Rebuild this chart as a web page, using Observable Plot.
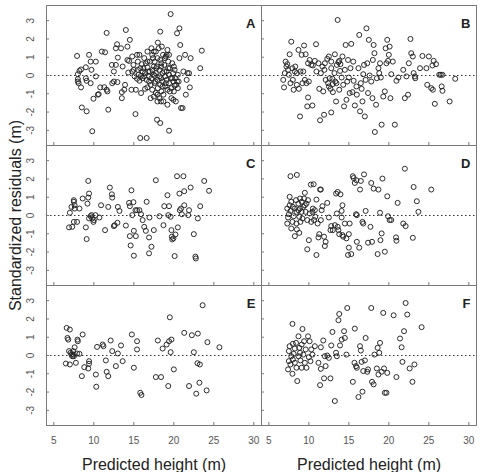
<!DOCTYPE html>
<html><head><meta charset="utf-8">
<script src="https://cdn.jsdelivr.net/npm/d3@7"></script>
<script src="https://cdn.jsdelivr.net/npm/@observablehq/plot@0.6"></script>
<style>body{margin:0;background:#fff} #chart svg{display:block}</style>
</head><body><div id="chart"></div><script>
const panelLetters = ["A","B","C","D","E","F"];
const panelCols = ["L","R","L","R","L","R"];
const panelRows = [1,1,2,2,3,3];
const xTicks = [5,10,15,20,25,30];
const yTicks = [-3,-2,-1,0,1,2,3];
const xTitle = "Predicted height (m)";
const yTitle = "Standardized residuals (m)";

const panelA = [[7.9,1.07],[8.0,-0.2],[8.0,0.07],[8.1,-0.42],[8.2,0.25],[8.4,0.33],[8.4,-0.65],[8.5,-1.75],[8.0,-0.33],[9.0,0.45],[9.0,-0.15],[9.1,-0.29],[9.1,-1.96],[9.4,1.13],[9.6,0.76],[9.7,0.31],[9.6,-0.42],[9.8,-3.05],[9.95,-1.27],[10.25,0.76],[10.25,-0.05],[10.5,-1.05],[10.6,-1.02],[10.8,-0.65],[11.0,1.31],[11.3,-0.64],[11.4,1.27],[11.6,2.33],[11.6,-0.78],[11.7,-0.87],[11.8,-1.87],[12.25,0.58],[12.3,-0.42],[12.5,-0.33],[12.5,0.22],[12.75,1.49],[12.9,1.71],[13.0,0.98],[12.75,0.58],[12.95,-0.36],[13.4,1.49],[13.5,-1.24],[13.5,-0.91],[13.6,0.49],[13.8,-0.78],[13.9,-0.51],[14.0,2.49],[14.2,1.58],[14.2,0.85],[14.3,0.16],[14.4,0.8],[14.5,1.95],[14.7,-0.78],[14.8,1.04],[14.95,0.58],[15.0,0.31],[15.2,-2.11],[15.25,-0.78],[15.4,1.13],[15.5,0.76],[15.5,0.31],[15.6,0.04],[15.7,1.13],[15.8,-3.42],[15.9,-0.96],[16.0,0.62],[16.1,-0.15],[16.2,0.4],[16.3,0.95],[16.4,-0.73],[16.5,0.67],[16.6,-3.42],[16.7,1.31],[16.7,0.44],[16.7,-0.65],[16.9,-0.33],[17.0,0.22],[17.1,-1.24],[17.2,1.49],[17.3,1.13],[17.5,1.31],[17.5,0.49],[17.6,-0.02],[17.7,-0.33],[17.75,-0.96],[17.8,0.4],[17.9,-2.42],[17.95,-1.42],[18.0,1.8],[18.1,1.49],[18.3,-2.6],[18.3,2.4],[18.4,-0.15],[18.45,0.67],[18.5,1.58],[18.6,-0.6],[18.7,-1.42],[18.8,0.22],[18.9,0.95],[19.0,-0.42],[19.1,1.13],[19.2,-1.6],[19.3,0.4],[19.4,-3.02],[19.5,-0.87],[19.6,3.36],[19.7,-1.24],[19.8,-0.15],[19.95,-1.33],[20.0,0.49],[20.1,-0.55],[20.25,-1.42],[20.4,2.31],[20.4,-0.33],[20.5,-0.69],[20.7,2.58],[20.7,0.95],[20.8,1.67],[20.9,-1.78],[21.1,-1.78],[21.2,0.22],[21.4,1.13],[21.5,-1.05],[21.6,-0.24],[21.7,0.13],[21.9,0.13],[22.0,-0.65],[22.1,0.95],[23.3,0.4],[23.5,1.36],
[17.3,0.31],[17.5,0.04],[17.6,-0.42],[17.75,0.13],[17.9,0.49],[17.95,-0.24],[18.0,-0.69],[18.2,0.31],[18.2,-0.05],[18.3,-0.51],[18.4,0.49],[18.45,-0.87],[18.6,0.13],[18.6,-0.33],[18.7,-1.05],[18.8,0.58],[18.9,-0.05],[18.95,-0.6],[19.1,0.22],[19.1,-0.24],[19.2,-0.78],[19.3,0.76],[19.4,0.04],[19.4,-0.42],[19.5,0.4],[19.6,-0.15],[19.7,-0.69],[19.8,0.67],[19.9,0.13],[19.95,-0.33],[20.0,-0.87],[20.1,0.31],[20.2,-0.15],[20.3,-0.51],[20.5,0.04],[20.6,-0.33],[17.1,-0.51],[17.2,-0.15],[17.3,-0.78],[16.9,-0.05],[16.8,0.22],[16.6,-0.24],[16.4,0.13],[16.3,-0.05],[16.1,0.22],[17.5,-1.15],[17.95,-1.05],[18.2,-1.24],[18.4,-1.42],[18.3,0.85],[17.95,0.95],[17.6,0.76],[18.65,1.13],[19.0,1.04],[19.4,1.13],[19.2,1.4],[17.75,1.31],[17.4,0.95],[17.0,0.76],[16.7,0.76],
[14.8,0.22],[15.1,-0.05],[15.4,-0.18],[15.7,-0.29],[15.9,-0.02],[15.8,0.4]];

const panelB = [[6.8,-0.24],[6.9,-0.65],[7.0,0.13],[7.1,0.76],[7.2,0.49],[7.3,0.62],[7.4,0.31],[7.5,0.04],[7.6,1.16],[7.7,-0.42],[7.8,1.85],[7.95,0.4],[8.0,-0.24],[8.1,-0.78],[8.25,0.22],[8.3,0.49],[8.5,-0.51],[8.5,0.13],[8.7,1.4],[8.75,-0.73],[8.9,-2.24],[8.95,0.22],[9.1,1.13],[9.2,-0.42],[9.3,0.22],[9.4,1.64],[9.5,-0.24],[9.6,1.16],[9.7,-0.42],[9.8,-1.69],[9.9,0.67],[9.9,-1.2],[10.0,-0.33],[10.1,0.85],[10.3,0.58],[10.45,-1.64],[10.5,0.55],[10.75,0.8],[10.9,1.71],[10.95,0.22],[11.2,0.67],[11.3,-0.73],[11.4,-2.45],[11.5,0.13],[11.7,0.49],[11.8,-0.87],[11.9,-2.15],[11.95,0.31],[12.0,0.67],[12.1,-0.24],[12.3,0.91],[12.4,-0.42],[12.5,1.04],[12.5,-0.6],[12.6,-0.15],[12.7,-0.73],[12.8,-2.02],[12.8,0.4],[12.95,-0.18],[13.0,-0.91],[13.2,0.13],[13.25,1.16],[13.4,-1.42],[13.45,-0.42],[13.6,3.04],[13.7,0.73],[13.8,-0.78],[13.9,0.25],[13.95,0.62],[14.1,-0.11],[14.2,1.04],[14.3,-0.51],[14.4,-1.69],[14.5,0.31],[14.6,1.67],[14.7,-1.33],[14.8,-0.33],[14.9,0.85],[15.0,-0.11],[15.1,-0.96],[15.2,0.4],[15.3,1.73],[15.45,-0.91],[15.55,0.76],[15.6,-0.29],[15.75,-1.64],[15.95,-0.6],[16.0,-1.05],[16.2,0.4],[16.3,2.22],[16.4,-1.96],[16.5,-0.42],[16.6,-0.73],[16.7,-1.42],[16.8,0.07],[16.9,0.58],[17.0,-2.24],[17.1,-0.24],[17.2,2.58],[17.3,0.67],[17.4,-0.96],[17.5,1.95],[17.6,0.0],[17.8,-0.33],[17.95,-1.24],[18.0,0.85],[18.1,1.67],[18.2,1.22],[18.25,-3.09],[18.4,-1.6],[18.5,-0.15],[18.7,0.4],[18.8,0.13],[18.9,0.67],[19.0,-0.11],[19.1,-2.69],[19.3,-1.15],[19.5,-0.87],[19.6,1.49],[19.7,0.67],[19.8,1.95],[19.9,0.8],[20.0,1.13],[20.1,1.58],[20.2,-1.24],[20.3,0.07],[20.5,0.76],[20.75,-2.69],[20.95,-0.29],[21.2,-0.11],[21.8,0.31],[22.0,-1.24],[22.2,-0.05],[22.4,-1.05],[22.5,0.67],[22.7,2.0],[22.8,1.22],[23.0,1.04],[23.1,0.13],[23.25,-0.05],[23.3,-0.15],[23.9,0.4],[24.2,1.07],[24.7,0.4],[24.8,-0.51],[25.0,1.04],[25.3,-0.69],[25.45,0.55],[25.5,-0.78],[25.6,0.8],[25.75,-1.55],[25.9,0.62],[26.3,0.04],[26.5,0.04],[26.7,0.04],[26.6,-0.6],[26.7,-0.84],[27.6,-1.42],[28.3,-0.18],[12.8,0.76],[13.5,0.58],[13.8,0.8],[13.3,-0.33],[13.0,-0.47]];

const panelC = [[6.9,-0.65],[7.0,0.15],[7.2,0.47],[7.3,-0.62],[7.5,0.84],[7.5,0.75],[7.5,-0.35],[7.6,0.56],[7.6,0.38],[7.9,-0.35],[8.2,0.38],[8.6,0.93],[9.0,-0.65],[9.1,-1.29],[9.2,0.65],[9.3,1.89],[9.3,0.98],[9.4,1.2],[9.4,-0.16],[9.6,-0.04],[9.7,0.02],[9.8,-0.16],[9.95,-0.35],[10.0,-0.25],[10.2,0.02],[10.7,-0.11],[10.9,0.56],[11.4,-0.8],[11.8,0.47],[12.0,1.53],[12.25,1.16],[12.3,0.98],[12.5,-0.58],[12.6,-0.53],[12.95,-0.4],[13.0,0.47],[13.2,0.25],[14.0,-0.55],[14.4,0.69],[14.5,0.51],[14.5,-1.13],[14.6,-1.64],[14.7,1.38],[14.8,0.02],[14.95,0.73],[15.0,-2.2],[15.0,-0.84],[15.2,0.29],[15.25,-1.13],[15.4,0.29],[15.7,0.29],[15.9,0.07],[16.1,-0.25],[16.3,-0.62],[16.5,-0.84],[16.6,0.75],[16.9,-1.2],[16.9,-2.07],[16.95,-0.11],[17.2,-1.71],[17.5,-0.8],[17.75,1.93],[18.2,-0.04],[18.7,-0.53],[18.8,0.51],[19.2,1.11],[19.3,0.02],[19.4,0.51],[19.6,-0.07],[19.7,-0.8],[19.75,-1.16],[19.8,-1.31],[19.95,-1.25],[20.1,-2.22],[20.2,-1.04],[20.4,2.15],[20.5,-0.65],[20.7,1.2],[20.75,0.29],[20.9,0.38],[21.0,0.07],[21.2,2.15],[21.3,0.56],[21.3,1.33],[21.8,0.02],[21.9,0.29],[22.1,1.53],[22.5,-1.02],[22.7,-2.25],[22.75,-2.35],[23.0,-0.16],[23.3,0.51],[23.8,1.89],[24.4,1.35]];

const panelD = [[7.7,2.15],[8.5,2.22],[7.6,1.02],[7.3,0.38],[7.3,-0.44],[7.4,-0.11],[7.5,0.07],[7.6,0.56],[7.7,0.25],[7.8,-0.71],[7.8,0.75],[7.95,-0.35],[8.0,0.47],[8.1,-0.04],[8.25,-1.13],[8.25,0.38],[8.4,0.84],[8.45,0.2],[8.45,-0.44],[8.5,-0.76],[8.7,0.29],[8.7,0.65],[8.8,-0.95],[8.8,-0.07],[8.9,0.93],[8.9,0.38],[8.95,-0.35],[9.1,0.75],[9.1,0.2],[9.2,-0.16],[9.3,0.47],[9.4,0.93],[9.5,0.56],[9.5,1.24],[9.6,0.2],[9.7,0.65],[9.8,-1.85],[9.8,-0.25],[9.9,0.84],[10.0,-1.35],[10.1,0.11],[10.25,1.69],[10.3,-0.35],[10.45,0.2],[10.5,0.38],[10.6,1.71],[10.65,-0.25],[10.75,0.29],[10.8,-0.07],[10.95,-2.16],[10.95,0.87],[11.1,-0.44],[11.2,-1.2],[11.3,-1.02],[11.4,1.42],[11.5,-0.25],[11.5,1.42],[11.6,0.29],[11.7,0.51],[11.9,-1.16],[12.0,-1.67],[12.1,-1.44],[12.3,0.69],[12.5,-0.11],[12.7,-0.8],[12.8,-0.58],[13.0,-0.8],[13.25,-0.53],[13.4,1.2],[13.5,0.11],[13.6,1.29],[13.6,-0.62],[13.7,-0.8],[13.8,-1.02],[13.95,1.16],[14.1,0.25],[14.1,-0.11],[14.2,0.56],[14.2,-1.07],[14.3,-1.16],[14.5,-0.44],[14.7,-1.25],[14.9,-2.16],[15.0,-1.76],[15.0,-1.02],[15.1,-0.44],[15.3,-2.11],[15.5,2.15],[15.6,2.05],[15.75,1.78],[15.9,0.07],[15.95,1.93],[16.0,-1.44],[16.0,0.02],[16.3,-1.76],[16.4,1.42],[16.5,1.89],[16.7,-0.35],[16.8,-0.44],[16.9,2.25],[17.1,0.25],[17.4,-1.49],[17.7,-0.62],[17.8,1.78],[17.9,-1.44],[18.1,1.47],[18.6,-2.11],[18.7,1.42],[18.9,0.15],[18.95,-1.35],[19.1,-0.98],[19.2,2.02],[19.5,-1.98],[19.8,1.05],[19.9,-0.04],[20.1,-0.25],[20.3,-0.25],[20.9,-1.2],[20.95,-1.38],[21.1,0.69],[21.8,-0.44],[22.0,2.56],[22.1,-0.58],[23.0,-1.22],[23.1,1.56],[23.5,0.78],[23.7,0.2],[25.3,1.42]];

const panelE = [[6.5,-0.44],[6.6,1.51],[6.7,0.96],[6.8,0.87],[6.9,0.24],[7.0,-0.49],[7.0,1.42],[7.1,0.15],[7.2,0.05],[7.3,-0.04],[7.4,0.24],[7.5,0.05],[7.5,-0.04],[7.6,0.45],[7.75,-0.4],[7.9,0.11],[7.95,0.87],[8.0,0.78],[8.2,0.09],[8.5,-1.13],[8.6,1.15],[8.8,-0.64],[9.3,-0.71],[9.4,-0.31],[9.4,-0.45],[10.25,-1.04],[10.3,-1.71],[10.4,0.47],[11.1,0.6],[11.2,0.51],[11.5,-0.27],[11.6,-0.89],[11.8,-1.13],[12.1,0.82],[12.3,0.24],[12.75,-0.58],[13.0,0.11],[13.4,0.55],[13.6,-0.31],[14.75,1.15],[15.0,-0.67],[15.4,0.78],[15.4,0.33],[15.8,-2.04],[15.95,-2.16],[17.75,-1.18],[18.0,0.82],[18.4,-1.18],[18.6,0.38],[19.1,0.6],[19.3,-1.67],[19.4,0.78],[19.5,2.09],[19.6,0.18],[19.7,0.87],[20.0,-0.76],[21.3,1.24],[21.9,-1.67],[22.25,1.11],[22.5,0.18],[22.8,-2.09],[22.95,-0.42],[23.0,1.2],[23.2,-1.49],[23.25,-0.49],[23.6,2.75],[24.1,-1.91],[24.2,0.73],[25.7,0.45]];

const panelF = [[7.4,-0.76],[7.5,0.24],[7.5,-0.31],[7.6,0.51],[7.7,-0.49],[7.8,-0.04],[7.95,-1.0],[7.95,1.73],[8.0,0.64],[8.0,-0.22],[8.1,0.09],[8.25,0.38],[8.25,-0.4],[8.4,0.69],[8.45,-0.67],[8.55,-1.4],[8.7,1.05],[8.7,-0.04],[8.8,0.42],[8.9,0.15],[8.95,-0.27],[9.1,0.6],[9.1,-0.67],[9.2,1.45],[9.3,0.05],[9.4,0.78],[9.5,-0.4],[9.6,0.33],[9.7,-0.67],[9.9,1.05],[10.0,-0.09],[10.1,0.78],[10.2,-0.31],[10.3,0.33],[10.45,0.05],[10.75,0.51],[11.2,-0.4],[11.4,-1.62],[11.5,-0.73],[11.5,0.45],[11.8,0.82],[11.9,-1.25],[12.0,-0.04],[12.1,-0.58],[12.3,0.0],[12.5,-0.13],[12.7,-1.25],[12.8,0.55],[12.95,1.29],[13.25,-2.49],[13.4,0.15],[13.5,-0.04],[13.7,1.93],[13.8,2.27],[13.9,0.55],[14.1,0.87],[14.4,1.33],[14.5,0.96],[14.7,0.05],[14.8,2.6],[15.5,-1.44],[15.7,-0.4],[15.75,1.47],[15.9,-0.58],[16.0,-0.67],[16.2,-2.27],[16.4,0.51],[16.5,0.27],[16.6,-0.35],[16.7,-1.98],[16.8,-0.85],[17.0,-0.27],[17.1,0.96],[17.3,-0.89],[17.4,-0.76],[17.8,2.6],[17.9,-1.44],[18.1,-1.58],[18.2,0.05],[18.5,-0.71],[18.6,0.42],[18.7,-1.04],[18.8,0.15],[18.9,0.69],[19.1,-0.89],[19.3,2.33],[19.4,-0.71],[19.5,-2.04],[19.7,-2.04],[19.8,-0.95],[20.6,2.2],[20.95,-1.18],[21.4,0.93],[21.6,0.45],[21.7,-0.35],[21.9,1.33],[22.1,2.87],[22.3,2.24],[22.6,-0.71],[22.95,-1.44],[23.2,-0.49],[24.1,1.55]];

const panelPoints = [panelA, panelB, panelC, panelD, panelE, panelF];

const points = panelPoints.flatMap((pts, i) => pts.map(([x, y]) => ({x, y, col: panelCols[i], row: panelRows[i]})));
const letters = panelLetters.map((t, i) => ({t, col: panelCols[i], row: panelRows[i]}));
const yTitleRow = [{t: yTitle, col: "L", row: 2}];

const frameColor = "#7a7a7a";
const chart = Plot.plot({
  width: 482, height: 472,
  marginLeft: 45.7, marginRight: 6, marginTop: 4, marginBottom: 45.3,
  style: {fontFamily: "'Liberation Sans', Arial, sans-serif", color: "#333", background: "#fff"},
  fx: {domain: ["L", "R"], padding: 0, axis: null},
  fy: {domain: [1, 2, 3], padding: 0, axis: null},
  x: {domain: [4.08, 30.96]},
  y: {domain: [-3.83, 3.83]},
  marks: [
    Plot.ruleY([0], {stroke: "#333", strokeWidth: 1, strokeDasharray: "1.5,2.5"}),
    Plot.dot(points, {x: "x", y: "y", fx: "col", fy: "row", r: 2.5, stroke: "#222", strokeWidth: 0.95, fill: "none"}),
    Plot.frame({stroke: frameColor, strokeWidth: 1}),
    Plot.axisX(xTicks, {tickSize: -3, fill: "none", stroke: frameColor, facetAnchor: null, label: null}),
    Plot.axisY(yTicks, {tickSize: -3, fill: "none", stroke: frameColor, facetAnchor: null, label: null}),
    Plot.axisX(xTicks, {tickSize: 0, tickPadding: 11, fontSize: 10, fill: "#555", facetAnchor: "bottom", label: null, tickFormat: d => String(d)}),
    Plot.text(yTicks, {y: d => d, text: d => String(d), frameAnchor: "left", dx: -16, rotate: -90, textAnchor: "middle", lineAnchor: "middle", fontSize: 10, fill: "#555", facetAnchor: "left"}),
    Plot.text(letters, {text: "t", fx: "col", fy: "row", frameAnchor: "top-right", dx: -6, dy: 18.5, textAnchor: "end", lineAnchor: "middle", fontWeight: "bold", fontSize: 13, fill: "#222"}),
    Plot.text([xTitle], {text: d => d, frameAnchor: "bottom", dy: 39, textAnchor: "middle", lineAnchor: "middle", facetAnchor: "bottom", fontSize: 16, fill: "#222"}),
    Plot.text(yTitleRow, {text: "t", fx: "col", fy: "row", frameAnchor: "left", dx: -31, rotate: -90, textAnchor: "middle", lineAnchor: "middle", fontSize: 16, fill: "#222"})
  ]
});
document.getElementById("chart").appendChild(chart);
</script></body></html>
